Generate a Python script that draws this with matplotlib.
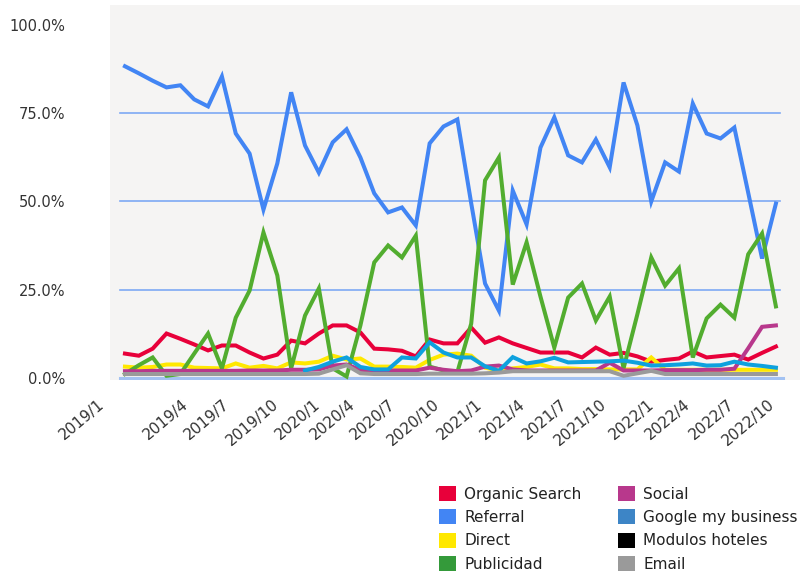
import numpy as np
import matplotlib.pyplot as plt
from matplotlib.patches import Patch

plt.rcParams['font.family'] = ['DejaVu Sans']

# monthly share of sessions per channel (%), 48 months starting 2019/1
organic = [6.8, 6.2, 8.2, 12.5, 11.0, 9.4, 7.7, 9.1, 9.1, 7.1,
           5.4, 6.5, 10.5, 9.7, 12.5, 14.8, 14.8, 12.8, 8.2, 8.0,
           7.6, 6.0, 10.8, 9.7, 9.7, 14.2, 9.9, 11.4, 9.7, 8.4,
           7.1, 7.1, 7.1, 5.7, 8.5, 6.5, 7.0, 6.0, 4.5, 5.0,
           5.4, 7.4, 5.7, 6.1, 6.5, 5.1, 7.0, 8.8]
referral = [88.4, 86.4, 84.3, 82.4, 83.0, 79.0, 77.0, 85.5, 69.3, 63.6,
            47.7, 60.8, 81.0, 65.9, 58.2, 66.8, 70.5, 62.5, 52.3, 46.9,
            48.3, 43.2, 66.5, 71.3, 73.3, 49.5, 26.7, 19.0, 53.1, 43.5,
            65.3, 73.9, 63.1, 61.1, 67.6, 59.7, 83.8, 71.6, 50.0, 61.1,
            58.5, 77.8, 69.3, 67.9, 71.0, 52.5, 33.8, 49.4]
direct = [3.1, 2.8, 3.0, 3.7, 3.7, 2.8, 2.7, 2.6, 4.0, 2.8,
          3.3, 2.6, 4.3, 4.0, 4.5, 6.2, 5.1, 5.4, 3.1, 3.1,
          3.0, 2.8, 5.0, 6.5, 6.8, 6.2, 2.8, 2.0, 2.6, 3.0,
          3.7, 2.6, 2.6, 2.4, 2.4, 2.3, 2.3, 2.3, 5.7, 2.2,
          2.2, 2.2, 2.2, 2.2, 2.2, 2.2, 2.2, 2.2]
publicidad = [1.0, 3.5, 5.7, 0.5, 1.0, 6.8, 12.5, 2.6, 17.0, 24.7,
              41.2, 29.0, 2.6, 17.6, 25.3, 2.6, 0.3, 14.8, 32.7, 37.5,
              34.1, 40.3, 3.1, 2.0, 1.5, 15.3, 56.0, 62.5, 26.4, 38.4,
              23.0, 8.5, 22.7, 26.7, 16.2, 23.0, 2.6, 18.0, 34.1, 26.1,
              31.0, 5.7, 16.8, 20.7, 17.0, 35.0, 40.9, 20.2]
social = [1.8, 1.8, 1.9, 1.9, 1.9, 1.9, 1.9, 1.9, 1.9, 2.0,
          2.0, 2.0, 2.2, 2.2, 2.3, 3.4, 3.7, 2.2, 2.0, 2.0,
          2.0, 2.0, 2.8, 2.2, 1.8, 2.0, 3.1, 3.4, 2.3, 2.0,
          2.0, 2.0, 2.0, 2.0, 2.0, 4.2, 2.0, 2.0, 2.0, 2.1,
          2.1, 2.1, 2.2, 2.2, 2.5, 8.3, 14.4, 14.8]
google_my_business = [None, None, None, None, None, None, None, None, None, None,
                      None, None, None, 2.0, 3.0, 4.5, 5.7, 3.0, 2.3, 2.3,
                      5.7, 5.4, 10.0, 7.1, 5.7, 5.7, 3.2, 1.9, 5.8, 4.0,
                      4.6, 5.6, 4.3, 4.4, 4.5, 4.6, 4.8, 4.2, 3.4, 3.5,
                      3.7, 4.0, 3.4, 3.5, 4.5, 3.7, 3.3, 2.8]
modulos_hoteles = []  # no visible values in the chart
email = [1.0, 1.0, 1.0, 1.0, 1.0, 1.0, 1.0, 1.0, 1.0, 1.0,
         1.0, 1.0, 1.0, 1.0, 1.1, 2.3, 3.5, 1.2, 1.0, 1.0,
         1.0, 1.0, 1.1, 1.1, 1.1, 1.1, 1.2, 1.4, 1.8, 1.8,
         1.8, 1.8, 1.8, 1.8, 1.8, 1.8, 0.5, 1.2, 1.9, 1.0,
         1.0, 1.0, 1.0, 1.0, 1.0, 1.0, 1.0, 1.0]

tick_labels = ["2019/1", "2019/4", "2019/7", "2019/10", "2020/1", "2020/4",
               "2020/7", "2020/10", "2021/1", "2021/4", "2021/7", "2021/10",
               "2022/1", "2022/4", "2022/7", "2022/10"]
tick_pos = [-2.0, 4.1, 7.0, 10.6, 13.6, 16.1, 19.0, 22.2, 25.3, 28.4,
            31.4, 34.3, 37.7, 40.3, 43.5, 46.4]

series = [
    ("Organic Search", organic, "#e8003a", "#e8003a"),
    ("Referral", referral, "#4285f4", "#4285f4"),
    ("Direct", direct, "#ffe800", "#ffe800"),
    ("Publicidad", publicidad, "#52ad2f", "#349a3a"),
    ("Social", social, "#b8388c", "#b8388c"),
    ("Google my business", google_my_business, "#0ea1de", "#3d85c6"),
    ("Modulos hoteles", modulos_hoteles, "#000000", "#000000"),
    ("Email", email, "#9a9a9a", "#9a9a9a"),
]

fig = plt.figure(figsize=(8, 5.73), dpi=100)
ax = fig.add_axes([110 / 800, 1 - 380 / 573, 690 / 800, 375 / 573])
ax.set_facecolor("#f5f4f3")
for sp in ax.spines.values():
    sp.set_visible(False)

for g in [25, 50, 75]:
    ax.axhline(g, xmin=0.0145, xmax=0.971, color="#7ea9f3", lw=1.2, zorder=1)
ax.axhline(0, xmin=0.0145, xmax=0.975, color="#a3c2f2", lw=2.2, zorder=1)

for name, vals, lc, _ in series:
    if len(vals) == 0:
        continue
    y = np.array(vals, dtype=float)
    x = np.arange(len(y))
    ax.plot(x, y, color=lc, lw=2.9, solid_joinstyle="miter", zorder=3)

ax.set_xlim(-1.08, 48.74)
ax.set_ylim(-0.7, 105.8)
ax.set_xticks([])
ax.set_yticks([0, 25, 50, 75, 100])
ax.set_yticklabels([f"{v:.1f}%" for v in [0, 25, 50, 75, 100]])
ax.tick_params(axis="y", length=0, pad=32, labelsize=10.5, labelcolor="#333333")

for pos, lab in zip(tick_pos, tick_labels):
    ax.text(pos, -0.045, lab, transform=ax.get_xaxis_transform(),
            rotation=40, ha="right", va="top", rotation_mode="anchor",
            fontsize=11, color="#333333", clip_on=False)

handles = [Patch(facecolor=c, edgecolor="none") for _, _, _, c in series]
labels = [s[0] for s in series]
fig.legend(handles, labels, ncol=2, loc="upper left",
           bbox_to_anchor=(439 / 800, 1 - 486 / 573), frameon=False,
           fontsize=11, handlelength=1.1, handleheight=1.1,
           handletextpad=0.55, labelspacing=0.52, columnspacing=2.4,
           borderpad=0, borderaxespad=0, labelcolor="#222222")

fig.savefig("out.png", dpi=100)
